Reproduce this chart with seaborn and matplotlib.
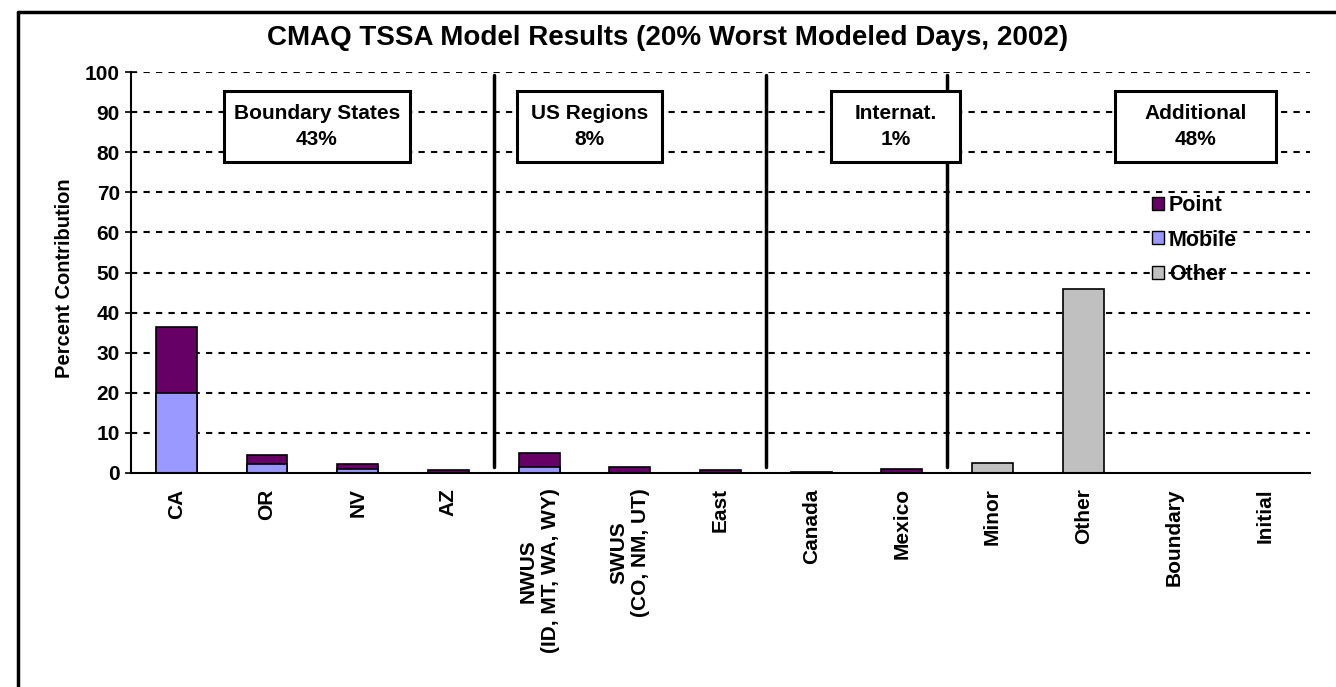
import matplotlib
matplotlib.use("Agg")
import matplotlib.pyplot as plt
from matplotlib.lines import Line2D
from matplotlib.patches import Rectangle, Patch
import seaborn as sns
import pandas as pd

categories = ["CA", "OR", "NV", "AZ", "NWUS\n(ID, MT, WA, WY)", "SWUS\n(CO, NM, UT)",
              "East", "Canada", "Mexico", "Minor", "Other", "Boundary", "Initial"]
point = [16.5, 2.1, 1.4, 0.7, 3.5, 1.6, 0.8, 0.3, 1.1, 0.0, 0.0, 0.0, 0.0]
mobile = [20.0, 2.3, 0.95, 0.0, 1.4, 0.0, 0.0, 0.0, 0.0, 0.0, 0.0, 0.0, 0.0]
other = [0.0, 0.0, 0.0, 0.0, 0.0, 0.0, 0.0, 0.0, 0.0, 2.4, 46.0, 0.0, 0.0]
group_names = ["Boundary States", "US Regions", "Internat.", "Additional"]
group_shares = ["43%", "8%", "1%", "48%"]
yticks = list(range(0, 101, 10))

title = "CMAQ TSSA Model Results (20% Worst Modeled Days, 2002)"
ylabel = "Percent Contribution"

sns.set_style("white")
plt.rcParams["font.family"] = ["Liberation Sans", "DejaVu Sans"]
plt.rcParams["font.weight"] = "bold"
plt.rcParams["text.color"] = "black"
plt.rcParams["axes.labelcolor"] = "black"
plt.rcParams["xtick.color"] = "black"
plt.rcParams["ytick.color"] = "black"

df = pd.DataFrame({"cat": categories, "point": point, "mobile": mobile, "other": other})
df["total"] = df["point"] + df["mobile"]

C_POINT = "#660066"
C_MOBILE = "#9999FF"
C_OTHER = "#C0C0C0"

fig = plt.figure(figsize=(13.36, 6.87), dpi=100)
ax = fig.add_axes([131/1336, 1-473/687, (1310-131)/1336, (473-72)/687])

bw = 0.45
sns.barplot(data=df, x="cat", y="total", color=C_POINT, saturation=1, width=bw,
            edgecolor="black", linewidth=1.2, ax=ax, order=categories)
sns.barplot(data=df, x="cat", y="mobile", color=C_MOBILE, saturation=1, width=bw,
            edgecolor="black", linewidth=1.2, ax=ax, order=categories)
sns.barplot(data=df, x="cat", y="other", color=C_OTHER, saturation=1, width=bw,
            edgecolor="black", linewidth=1.2, ax=ax, order=categories)

ax.set_xlim(-0.5, len(categories) - 0.5)
ax.set_ylim(0, 100)
ax.set_yticks(yticks)
ax.set_yticklabels([str(v) for v in yticks], fontsize=15, fontweight="bold")
ax.set_xticks(range(len(categories)))
ax.set_xticklabels(categories, rotation=90, fontsize=15, fontweight="bold",
                   va="top", ha="center", multialignment="center")
ax.set_xticks([i - 0.5 for i in range(len(categories) + 1)], minor=True)
ax.tick_params(axis="x", which="major", length=0, pad=11)
ax.tick_params(axis="x", which="minor", length=8, width=1.2, direction="out", color="black")
ax.tick_params(axis="y", length=8, width=1.2, direction="inout", color="black", left=True, pad=4)

ax.set_xlabel("")
ax.set_ylabel(ylabel, fontsize=14.5, fontweight="bold")
ax.yaxis.set_label_coords(-0.048, 0.487)

for s in ["top", "right"]:
    ax.spines[s].set_visible(False)
for s in ["left", "bottom"]:
    ax.spines[s].set_color("black")
    ax.spines[s].set_linewidth(1.5)

for v in yticks[1:]:
    ax.axhline(v, color="black", lw=1.5, ls=(0, (3, 3)), zorder=0)

# group separators
for xs in [3.5, 6.5, 8.5]:
    ax.plot([xs, xs], [1.5, 99.3], color="black", lw=2.5, zorder=3)

# group boxes
boxes = [(0.525, 2.576), (3.76, 5.36), (7.22, 8.64), (10.35, 12.13)]
for (x0, x1), name, share in zip(boxes, group_names, group_shares):
    ax.add_patch(Rectangle((x0, 77.6), x1 - x0, 17.7, facecolor="white",
                           edgecolor="black", lw=2.2, zorder=4))
    ax.text((x0 + x1) / 2, 86.45, f"{name}\n{share}", ha="center", va="center",
            fontsize=15, fontweight="bold", zorder=5, linespacing=1.45)

handles = [Patch(facecolor=C_POINT, edgecolor="black", label="Point"),
           Patch(facecolor=C_MOBILE, edgecolor="black", label="Mobile"),
           Patch(facecolor=C_OTHER, edgecolor="black", label="Other")]
leg = ax.legend(handles=handles, loc="upper left", bbox_to_anchor=(0.8495, 0.741),
                frameon=False, fontsize=15.5, handlelength=0.58, handleheight=0.55,
                handletextpad=0.2, labelspacing=0.62)
for t in leg.get_texts():
    t.set_fontweight("bold")

fig.text(0.4993, 1-38/687, title, ha="center", va="center", fontsize=20, fontweight="bold")

# outer frame
fig.add_artist(Line2D([18/1336, 18/1336], [0, 1-12/687], transform=fig.transFigure,
                      color="black", lw=2.5))
fig.add_artist(Line2D([18/1336, 1], [1-12/687, 1-12/687], transform=fig.transFigure,
                      color="black", lw=2.5))

fig.savefig("out.png", dpi=100)
